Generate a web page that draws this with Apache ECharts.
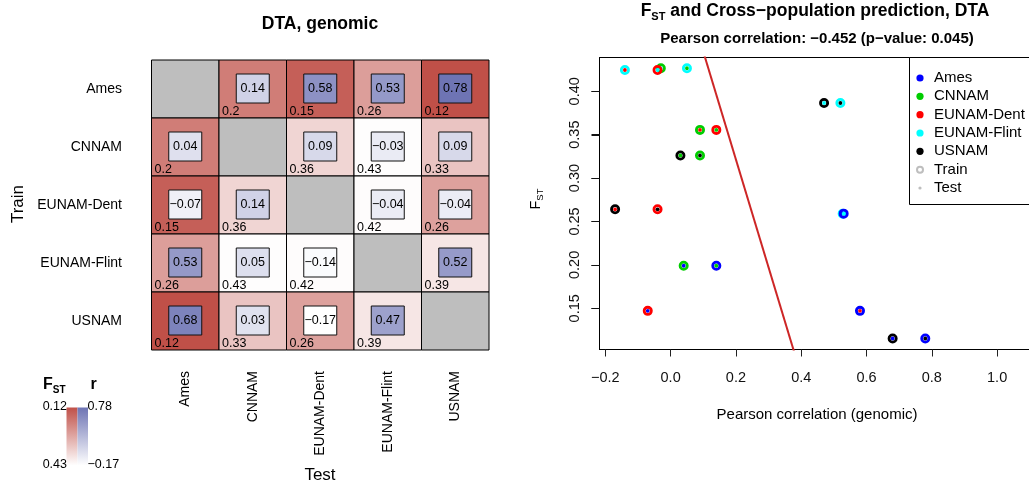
<!DOCTYPE html>
<html>
<head>
<meta charset="utf-8">
<script src="https://cdn.jsdelivr.net/npm/echarts@6/dist/echarts.min.js"></script>
<style>html,body{margin:0;padding:0;background:#fff}#c{width:1029px;height:485px}</style>
</head>
<body>
<div id="c"></div>
<script>
// ---------------- data ----------------
const populations = ['Ames', 'CNNAM', 'EUNAM-Dent', 'EUNAM-Flint', 'USNAM'];
const popColors = ['#0000FF', '#00CD00', '#FF0000', '#00FFFF', '#000000'];
// rows = Train population, columns = Test population
const rValues = [
  [null, 0.14, 0.58, 0.53, 0.78],
  [0.04, null, 0.09, -0.03, 0.09],
  [-0.07, 0.14, null, -0.04, -0.04],
  [0.527, 0.05, -0.14, null, 0.52],
  [0.68, 0.03, -0.17, 0.47, null]
];
const fstValues = [
  [null, 0.199, 0.147, 0.259, 0.1152],
  [0.199, null, 0.3555, 0.4265, 0.326],
  [0.147, 0.3555, null, 0.4245, 0.264],
  [0.259, 0.4265, 0.4245, null, 0.3865],
  [0.1152, 0.326, 0.264, 0.3865, null]
];
const fstRange = [0.12, 0.43];
const rRange = [-0.17, 0.78];
const xTicks = [-0.2, 0, 0.2, 0.4, 0.6, 0.8, 1.0];
const yTicks = [0.15, 0.20, 0.25, 0.30, 0.35, 0.40];
const regression = { intercept: 0.570, slope: -1.243 };
const legendNames = ['Ames', 'CNNAM', 'EUNAM-Dent', 'EUNAM-Flint', 'USNAM', 'Train', 'Test'];

// ---------------- helpers ----------------
const FONT = '"Liberation Sans", Arial, Helvetica, sans-serif';
const fstDark = [192, 80, 72];
const rDark = [110, 116, 180];
function lerpColor(rgb, t) {
  t = Math.max(0, Math.min(1, t));
  return 'rgb(' + rgb.map(c => Math.round(255 + (c - 255) * t)).join(',') + ')';
}
const fstColor = f => lerpColor(fstDark, (fstRange[1] - f) / (fstRange[1] - fstRange[0]));
const rColor = r => lerpColor(rDark, (r - rRange[0]) / (rRange[1] - rRange[0]));
const fmtMinus = s => s.replace('-', '\u2212');
const fmtR = r => fmtMinus(r.toFixed(2));
const fmtF = f => String(parseFloat(f.toFixed(2)));

// heatmap cells: [testIdx, trainIdx, r, fst, isDiag]
const heatData = [];
for (let i = 0; i < populations.length; i++) {
  for (let j = 0; j < populations.length; j++) {
    const diag = rValues[i][j] === null;
    heatData.push([j, i, diag ? 0 : rValues[i][j], diag ? 0 : fstValues[i][j], diag ? 1 : 0]);
  }
}
// scatter points: [r, fst, trainIdx, testIdx]  (drawn test by test)
const pointData = [];
for (let j = 0; j < populations.length; j++) {
  for (let i = 0; i < populations.length; i++) {
    if (i === j) continue;
    pointData.push([rValues[i][j], fstValues[i][j], i, j]);
  }
}

// scatter axis bounds
const xMin = -0.2178, xMax = 1.1099;
const yMin = 0.1025, yMax = 0.4389;
const lineData = [
  [xMin, regression.intercept + regression.slope * xMin],
  [xMax, regression.intercept + regression.slope * xMax]
];
const yTickData = yTicks.map(v => [xMin, v]);

const chart = echarts.init(document.getElementById('c'), null, { renderer: 'canvas' });

const txt = (text, x, y, opt, rotation) => ({
  type: 'text', x: x, y: y, silent: true, rotation: rotation || 0,
  style: Object.assign({ text: text, fill: '#000', fontFamily: FONT, fontSize: 14, align: 'center', verticalAlign: 'middle' }, opt || {})
});

// legend (scatter)
const legendChildren = [{
  type: 'rect', shape: { x: 909.5, y: 57.5, width: 123.5, height: 147 },
  style: { fill: '#fff', stroke: '#000', lineWidth: 1 }
}];
legendNames.forEach((name, k) => {
  const y = 78 + k * 18.33;
  if (k < 5) {
    legendChildren.push({ type: 'circle', shape: { cx: 920, cy: y, r: 3.6 }, style: { fill: popColors[k] } });
  } else if (name === 'Train') {
    legendChildren.push({ type: 'circle', shape: { cx: 920, cy: y, r: 3 }, style: { fill: 'none', stroke: '#BEBEBE', lineWidth: 2 } });
  } else {
    legendChildren.push({ type: 'circle', shape: { cx: 920, cy: y, r: 1.6 }, style: { fill: '#BEBEBE' } });
  }
  legendChildren.push(txt(name, 934, y, { align: 'left', fontSize: 15 }));
});

const option = {
  animation: false,
  backgroundColor: '#fff',
  textStyle: { fontFamily: FONT },
  grid: [
    { left: 599.5, top: 57.5, width: 433.5, height: 292, show: true, borderColor: '#000', borderWidth: 1,
      backgroundColor: 'rgba(0,0,0,0)', outerBoundsMode: 'none', containLabel: false },
    { left: 151.5, top: 60, width: 337.5, height: 290, show: false, outerBoundsMode: 'none', containLabel: false }
  ],
  xAxis: [
    { type: 'value', gridIndex: 0, min: xMin, max: xMax,
      axisLine: { show: true, onZero: false, lineStyle: { color: '#000', width: 1 } }, splitLine: { show: false },
      axisTick: { show: true, length: 7, customValues: xTicks, lineStyle: { color: '#222', width: 1 } },
      axisLabel: { show: true, customValues: xTicks, margin: 21, fontSize: 14.5, color: '#111',
        formatter: v => fmtMinus(Number(v).toFixed(1)) } },
    { type: 'category', gridIndex: 1, data: populations, position: 'bottom',
      axisLine: { show: false, onZero: false }, axisTick: { show: false }, splitLine: { show: false },
      axisLabel: { rotate: 90, margin: 21, fontSize: 14, color: '#000', interval: 0 } }
  ],
  yAxis: [
    { type: 'value', gridIndex: 0, min: yMin, max: yMax,
      axisLine: { show: true, onZero: false, lineStyle: { color: '#000', width: 1 } }, splitLine: { show: false },
      axisTick: { show: true, length: 8, customValues: yTicks, lineStyle: { color: '#111', width: 1 } },
      axisLabel: { show: true, customValues: yTicks, rotate: 90, margin: 17, fontSize: 14.5, color: '#111',
        formatter: v => Number(v).toFixed(2) } },
    { type: 'category', gridIndex: 1, data: populations, inverse: true,
      axisLine: { show: false, onZero: false }, axisTick: { show: false }, splitLine: { show: false },
      axisLabel: { margin: 29.5, fontSize: 14, color: '#000', interval: 0 } }
  ],
  series: [
    {
      type: 'custom', name: 'heat', xAxisIndex: 1, yAxisIndex: 1, clip: false, silent: true,
      data: heatData, encode: { x: 0, y: 1 },
      renderItem: (params, api) => {
        const c = api.coord([api.value(0), api.value(1)]);
        const s = api.size([1, 1]);
        const x0 = c[0] - s[0] / 2, y0 = c[1] - s[1] / 2;
        const diag = api.value(4) === 1;
        const children = [{
          type: 'rect', shape: { x: x0, y: y0, width: s[0], height: s[1] },
          style: { fill: diag ? '#BEBEBE' : fstColor(api.value(3)), stroke: '#000', lineWidth: 1 }
        }];
        if (!diag) {
          const r = api.value(2);
          children.push({ type: 'rect', shape: { x: c[0] - 16.5, y: c[1] - 15, width: 33, height: 29 },
            style: { fill: rColor(r), stroke: '#111', lineWidth: 1 } });
          children.push({ type: 'text', x: c[0], y: c[1] - 0.5,
            style: { text: fmtR(r), align: 'center', verticalAlign: 'middle', fontSize: 12.5, fontFamily: FONT, fill: '#000' } });
          children.push({ type: 'text', x: x0 + 3, y: y0 + s[1] + 0.5,
            style: { text: fmtF(api.value(3)), align: 'left', verticalAlign: 'bottom', fontSize: 12.5, fontFamily: FONT, fill: '#000' } });
        }
        return { type: 'group', children: children };
      }
    },
    {
      type: 'line', name: 'fit', xAxisIndex: 0, yAxisIndex: 0, data: lineData, symbol: 'none',
      clip: true, silent: true, lineStyle: { color: '#CD2626', width: 2 }, z: 2
    },
    {
      type: 'custom', name: 'points', xAxisIndex: 0, yAxisIndex: 0, clip: true, silent: true,
      data: pointData, encode: { x: 0, y: 1 }, z: 3,
      renderItem: (params, api) => {
        const p = api.coord([api.value(0), api.value(1)]);
        return { type: 'group', children: [
          { type: 'circle', shape: { cx: p[0], cy: p[1], r: 3.6 }, style: { fill: 'none', stroke: popColors[api.value(2)], lineWidth: 2.8 } },
          { type: 'circle', shape: { cx: p[0], cy: p[1], r: 1.9 }, style: { fill: popColors[api.value(3)] } }
        ] };
      }
    }
  ],
  graphic: [
    // left panel titles
    txt('DTA, genomic', 320, 24, { fontSize: 17.5, fontWeight: 'bold' }),
    txt('Train', 18, 204, { fontSize: 17 }, Math.PI / 2),
    txt('Test', 320, 475, { fontSize: 17 }),
    // colour key
    txt('{a|F}{b|ST}', 43, 385, { align: 'left', rich: {
      a: { fontSize: 16, fontWeight: 'bold', fontFamily: FONT, lineHeight: 20, verticalAlign: 'middle' },
      b: { fontSize: 10, fontWeight: 'bold', fontFamily: FONT, lineHeight: 10, verticalAlign: 'bottom' } } }),
    txt('r', 90.5, 385, { align: 'left', fontSize: 16, fontWeight: 'bold' }),
    { type: 'rect', silent: true, shape: { x: 66.5, y: 407.5, width: 11, height: 58 },
      style: { fill: { type: 'linear', x: 0, y: 0, x2: 0, y2: 1, colorStops: [{ offset: 0, color: fstColor(fstRange[0]) }, { offset: 1, color: '#fff' }] } } },
    { type: 'rect', silent: true, shape: { x: 77.5, y: 407.5, width: 10.5, height: 58 },
      style: { fill: { type: 'linear', x: 0, y: 0, x2: 0, y2: 1, colorStops: [{ offset: 0, color: rColor(rRange[1]) }, { offset: 1, color: '#fff' }] } } },
    txt(fmtF(fstRange[0]), 67, 407, { align: 'right', fontSize: 12.5 }),
    txt(fmtF(fstRange[1]), 67, 465, { align: 'right', fontSize: 12.5 }),
    txt(fmtR(rRange[1]), 87.5, 407, { align: 'left', fontSize: 12.5 }),
    txt(fmtR(rRange[0]), 87.5, 465, { align: 'left', fontSize: 12.5 }),
    // right panel titles
    txt('{a|F}{b|ST}{c| and Cross\u2212population prediction, DTA}', 815, 11, { rich: {
      a: { fontSize: 17.5, fontWeight: 'bold', fontFamily: FONT, lineHeight: 22, verticalAlign: 'middle' },
      b: { fontSize: 11, fontWeight: 'bold', fontFamily: FONT, lineHeight: 11, verticalAlign: 'bottom' },
      c: { fontSize: 17.5, fontWeight: 'bold', fontFamily: FONT, lineHeight: 22, verticalAlign: 'middle' } } }),
    txt('Pearson correlation: \u22120.452 (p\u2212value: 0.045)', 817, 39, { fontSize: 15, fontWeight: 'bold' }),
    txt('Pearson correlation (genomic)', 817, 415, { fontSize: 15 }),
    txt('{a|F}{b|ST}', 536, 199, { rich: {
      a: { fontSize: 14.5, fontFamily: FONT, lineHeight: 18, verticalAlign: 'middle' },
      b: { fontSize: 9.5, fontFamily: FONT, lineHeight: 9.5, verticalAlign: 'bottom' } } }, Math.PI / 2),
    { type: 'group', silent: true, children: legendChildren }
  ]
};
chart.setOption(option);

// y-axis tick marks of the scatter panel, positioned through the chart's own y scale
const tickLines = yTickData.map(d => {
  const p = chart.convertToPixel({ gridIndex: 0 }, d);
  const y = Math.round(p[1]) + 0.5;
  return { type: 'line', silent: true, z: 100,
    shape: { x1: p[0] - 8, y1: y, x2: p[0], y2: y },
    style: { stroke: '#111', lineWidth: 1 } };
});
chart.setOption({ graphic: option.graphic.concat(tickLines) });
</script>
</body>
</html>
